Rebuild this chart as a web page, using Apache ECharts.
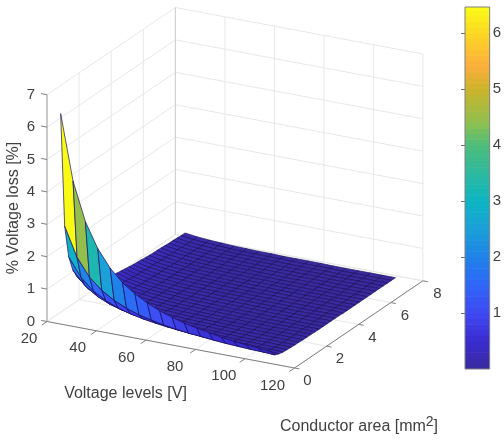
<!DOCTYPE html>
<html><head><meta charset="utf-8">
<style>html,body{margin:0;padding:0;background:#fff}#c{width:504px;height:441px}</style>
<script src="https://cdn.jsdelivr.net/npm/echarts@6/dist/echarts.min.js"></script>
</head><body><div id="c"></div>
<script>
const xTicks=[20,40,60,80,100,120];
const yTicks=[0,2,4,6,8];
const zTicks=[0,1,2,3,4,5,6,7];
const barTicks=[1,2,3,4,5,6];
const voltages=[25,30,35,40,45,50,55,60,65,70,75,80,85,90,95,100,105,110];
const areas=[0.08,0.33,0.58,0.83,1.08,1.33,1.58,1.83,2.08,2.33,2.58,2.83,3.08,3.33,3.58,3.83,4.08,4.33,4.58,4.83,5.08,5.33,5.58,5.83,6.08,6.33,6.58,6.83,7.08,7.33,7.58,7.83];
const loss=[
[6.46,4.45,3.27,2.51,1.98,1.60,1.33,1.12,.95,.82,.71,.63,.56,.49,.44,.40,.37,.33],
[2.91,2.02,1.48,1.14,.90,.73,.60,.51,.43,.37,.32,.29,.25,.22,.20,.18,.17,.15],
[1.88,1.31,.96,.74,.58,.47,.39,.33,.28,.24,.21,.18,.16,.14,.13,.12,.11,.10],
[1.39,.97,.71,.54,.43,.35,.29,.24,.21,.18,.15,.14,.12,.11,.10,.09,.08,.07],
[1.10,.77,.56,.43,.34,.28,.23,.19,.16,.14,.12,.11,.10,.09,.08,.07,.06,.06],
[.91,.63,.47,.36,.28,.23,.19,.16,.14,.12,.10,.09,.08,.07,.06,.06,.05,.05],
[.78,.54,.40,.31,.24,.20,.16,.14,.12,.10,.09,.08,.07,.06,.05,.05,.04,.04],
[.68,.47,.35,.27,.21,.17,.14,.12,.10,.09,.08,.07,.06,.05,.05,.04,.04,.04],
[.60,.42,.31,.24,.19,.15,.13,.11,.09,.08,.07,.06,.05,.05,.04,.04,.03,.03],
[.54,.38,.28,.21,.17,.14,.11,.09,.08,.07,.06,.05,.05,.04,.04,.03,.03,.03],
[.49,.34,.25,.19,.15,.12,.10,.09,.07,.06,.05,.05,.04,.04,.03,.03,.03,.03],
[.45,.31,.23,.18,.14,.11,.09,.08,.07,.06,.05,.04,.04,.03,.03,.03,.03,.02],
[.42,.29,.21,.16,.13,.10,.09,.07,.06,.05,.05,.04,.04,.03,.03,.03,.02,.02],
[.39,.27,.20,.15,.12,.10,.08,.07,.06,.05,.04,.04,.03,.03,.03,.02,.02,.02],
[.36,.25,.18,.14,.11,.09,.07,.06,.05,.05,.04,.04,.03,.03,.02,.02,.02,.02],
[.34,.23,.17,.13,.10,.08,.07,.06,.05,.04,.04,.03,.03,.03,.02,.02,.02,.02],
[.32,.22,.16,.12,.10,.08,.07,.06,.05,.04,.04,.03,.03,.02,.02,.02,.02,.02],
[.30,.21,.15,.12,.09,.07,.06,.05,.04,.04,.03,.03,.03,.02,.02,.02,.02,.02],
[.28,.20,.14,.11,.09,.07,.06,.05,.04,.04,.03,.03,.02,.02,.02,.02,.02,.01],
[.27,.19,.14,.11,.08,.07,.06,.05,.04,.03,.03,.03,.02,.02,.02,.02,.02,.01],
[.26,.18,.13,.10,.08,.06,.05,.04,.04,.03,.03,.03,.02,.02,.02,.02,.01,.01],
[.24,.17,.12,.10,.08,.06,.05,.04,.04,.03,.03,.02,.02,.02,.02,.02,.01,.01],
[.23,.16,.12,.09,.07,.06,.05,.04,.03,.03,.03,.02,.02,.02,.02,.01,.01,.01],
[.22,.16,.11,.09,.07,.06,.05,.04,.03,.03,.02,.02,.02,.02,.02,.01,.01,.01],
[.22,.15,.11,.08,.07,.05,.04,.04,.03,.03,.02,.02,.02,.02,.01,.01,.01,.01],
[.21,.14,.11,.08,.06,.05,.04,.04,.03,.03,.02,.02,.02,.02,.01,.01,.01,.01],
[.20,.14,.10,.08,.06,.05,.04,.03,.03,.03,.02,.02,.02,.02,.01,.01,.01,.01],
[.19,.13,.10,.08,.06,.05,.04,.03,.03,.02,.02,.02,.02,.01,.01,.01,.01,.01],
[.19,.13,.09,.07,.06,.05,.04,.03,.03,.02,.02,.02,.02,.01,.01,.01,.01,.01],
[.18,.12,.09,.07,.06,.04,.04,.03,.03,.02,.02,.02,.02,.01,.01,.01,.01,.01],
[.17,.12,.09,.07,.05,.04,.04,.03,.03,.02,.02,.02,.02,.01,.01,.01,.01,.01],
[.17,.12,.09,.07,.05,.04,.03,.03,.02,.02,.02,.02,.01,.01,.01,.01,.01,.01]
];
const scaleValues=[0,.5,1,1.5,2,2.5,3,3.5,4,4.4,5,5.4,5.9,6.46];
const scaleColors=['#3a2a9c','#3a2cd0','#3f48f2','#2f66f8','#1f82e8','#1ba0d8','#0cb5c4','#2db99e','#4dbd7a','#8fc050','#cbb42a','#fcae3c','#fcd028','#f9fb15'];
const barLevels=[0,.1,.2,.3,.4,.5,.6,.7,.8,.9,1,1.1,1.2,1.3,1.4,1.5,1.6,1.7,1.8,1.9,2,2.1,2.2,2.3,2.4,2.5,2.6,2.7,2.8,2.9,3,3.1,3.2,3.3,3.4,3.5,3.6,3.7,3.8,3.9,4,4.1,4.2,4.3,4.4,4.5,4.6,4.7,4.8,4.9,5,5.1,5.2,5.3,5.4,5.5,5.6,5.7,5.8,5.9,6,6.1,6.2,6.3,6.4,6.46];

function colorOf(v){
  for(let i=1;i<scaleValues.length;i++){
    if(v<=scaleValues[i]){
      const t=(v-scaleValues[i-1])/(scaleValues[i]-scaleValues[i-1]);
      return echarts.color.lerp(t,[scaleColors[i-1],scaleColors[i]]);
    }
  }
  return scaleColors[scaleColors.length-1];
}
// view projection of (V, A, loss) on to the flat helper plane
function project(x,y,z){
  return [47+(x-20)*2.475+y*16.05, 321.5+(x-20)*0.465-y*10.9-z*32.4];
}
const X0=xTicks[0],X1=xTicks[xTicks.length-1],Y0=yTicks[0],Y1=yTicks[yTicks.length-1],Z0=zTicks[0],Z1=zTicks[zTicks.length-1];
const GRID='#e8e8e8',AXIS='#808080',TXT='#404040',FONT='"Liberation Sans",Arial,sans-serif';

// wall and floor grid lines, then axis lines
const gridSegs=[];
xTicks.forEach(x=>{gridSegs.push([x,Y0,Z0,x,Y1,Z0,GRID]);gridSegs.push([x,Y1,Z0,x,Y1,Z1,GRID]);});
yTicks.forEach(y=>{gridSegs.push([X0,y,Z0,X1,y,Z0,GRID]);gridSegs.push([X0,y,Z0,X0,y,Z1,GRID]);});
zTicks.forEach(z=>{gridSegs.push([X0,Y0,z,X0,Y1,z,GRID]);gridSegs.push([X0,Y1,z,X1,Y1,z,GRID]);});
gridSegs.push([X0,Y1,Z0,X0,Y1,Z1,'#cfcfcf']);
const axisSegs=[
 [X0,Y0,Z0,X1,Y0,Z0,AXIS],[X1,Y0,Z0,X1,Y1,Z0,AXIS],[X0,Y0,Z0,X0,Y0,Z1,'#a0a0a0'],
];
xTicks.forEach(x=>axisSegs.push([x,Y0,Z0,x,Y0-0.33,Z0,AXIS]));
yTicks.forEach(y=>axisSegs.push([X1,y,Z0,X1+2,y,Z0,AXIS]));
zTicks.forEach(z=>axisSegs.push([X0,Y0,z,X0-2.4,Y0,z,AXIS]));

const labels=[];
xTicks.forEach(x=>labels.push([x,Y0,Z0,String(x),-18-(x-20)*0.04,17.5]));
yTicks.forEach(y=>labels.push([X1,y,Z0,String(y),13+y*0.2,13]));
zTicks.forEach(z=>labels.push([X0,Y0,z,String(z),-16,0]));

// cells painted far to near
const cells=[];
for(let k=areas.length-2;k>=0;k--){
  for(let j=0;j<voltages.length-1;j++){
    cells.push([voltages[j],areas[k],loss[k][j],voltages[j+1],areas[k],loss[k][j+1],voltages[j+1],areas[k+1],loss[k+1][j+1],voltages[j],areas[k+1],loss[k+1][j]]);
  }
}
function seg(list){
  return function(p,api){
    const a=api.coord(project(api.value(0),api.value(1),api.value(2)));
    const b=api.coord(project(api.value(3),api.value(4),api.value(5)));
    return {type:'line',shape:{x1:a[0],y1:a[1],x2:b[0],y2:b[1]},style:{stroke:list[p.dataIndex][6],lineWidth:1}};
  };
}

const chart=echarts.init(document.getElementById('c'),null,{renderer:'canvas'});
chart.setOption({
 animation:false,
 backgroundColor:'#fff',
 grid:[{left:0,top:0,width:504,height:441,show:false},{left:465,top:7,width:28,height:362,show:true,borderColor:'#808080',borderWidth:1,backgroundColor:'transparent',z:5}],
 xAxis:[
  {gridIndex:0,type:'value',min:0,max:504,show:false},
  {gridIndex:1,type:'value',min:0,max:1,show:false}
 ],
 yAxis:[
  {gridIndex:0,type:'value',min:0,max:441,inverse:true,show:false},
  {gridIndex:1,type:'value',min:0,max:6.46,position:'right',splitLine:{show:false},
   axisLine:{show:false},
   axisTick:{show:true,inside:true,length:4,lineStyle:{color:'#707070'},customValues:barTicks},
   axisLabel:{inside:false,margin:3,color:TXT,fontFamily:FONT,fontSize:15,customValues:barTicks,hideOverlap:false}}
 ],
 series:[
  {type:'custom',coordinateSystem:'cartesian2d',silent:true,z:1,clip:false,data:gridSegs.map(s=>s.slice(0,6)),renderItem:seg(gridSegs)},
  {type:'custom',coordinateSystem:'cartesian2d',silent:true,z:2,clip:false,data:axisSegs.map(s=>s.slice(0,6)),renderItem:seg(axisSegs)},
  {type:'custom',coordinateSystem:'cartesian2d',silent:true,z:3,clip:false,progressive:0,data:cells,
   renderItem(p,api){
    const pts=[0,3,6,9].map(o=>api.coord(project(api.value(o),api.value(o+1),api.value(o+2))));
    return {type:'polygon',shape:{points:pts},style:{fill:colorOf(api.value(2)),stroke:'#1a1060',lineWidth:0.7,lineJoin:'round'}};
   }},
  {type:'custom',coordinateSystem:'cartesian2d',silent:true,z:4,clip:false,data:labels.map(l=>[l[0],l[1],l[2],l[4],l[5]]),
   renderItem(p,api){
    const c=api.coord(project(api.value(0),api.value(1),api.value(2)));
    return {type:'text',x:c[0]+api.value(3),y:c[1]+api.value(4),style:{text:labels[p.dataIndex][3],fill:TXT,font:'15px '+FONT,textAlign:'center',textVerticalAlign:'middle'}};
   }},
  {type:'custom',coordinateSystem:'cartesian2d',xAxisIndex:1,yAxisIndex:1,silent:true,z:2,clip:true,data:barLevels.slice(0,-1).map((v,i)=>[v,barLevels[i+1]]),
   renderItem(p,api){
    const a=api.coord([0,api.value(0)]),b=api.coord([1,api.value(1)]);
    return {type:'rect',shape:{x:a[0],y:b[1],width:b[0]-a[0],height:a[1]-b[1]+0.6},style:{fill:colorOf(api.value(0)+0.05)}};
   }}
 ],
 graphic:[
  {type:'text',x:14,y:208,rotation:Math.PI/2,style:{text:'% Voltage loss [%]',fill:TXT,font:'16px '+FONT,textAlign:'center',textVerticalAlign:'middle'}},
  {type:'text',x:125.5,y:394,style:{text:'Voltage levels [V]',fill:TXT,font:'16px '+FONT,textAlign:'center',textVerticalAlign:'middle'}},
  {type:'text',x:280,y:427,style:{text:'Conductor area [mm{s|2}]',fill:TXT,font:'16px '+FONT,textAlign:'left',textVerticalAlign:'middle',rich:{s:{fontSize:14,fontFamily:FONT,fill:TXT,verticalAlign:'top',padding:[0,0,10,0]}}}}
 ]
});
</script></body></html>
